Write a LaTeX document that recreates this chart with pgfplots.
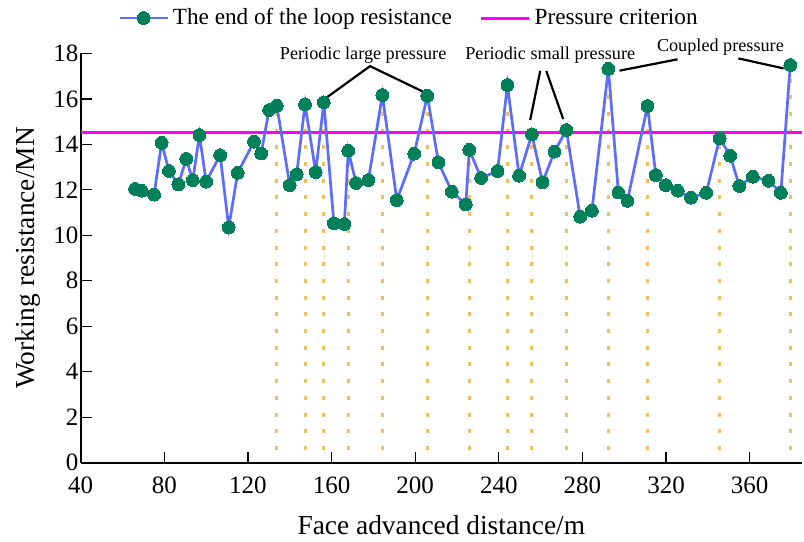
\documentclass[border=0pt]{standalone}
\usepackage{pgfplots}
\pgfplotsset{compat=1.18}
\usepackage{fontspec}
\setmainfont{Liberation Serif}
\definecolor{lineblue}{RGB}{92,108,255}
\definecolor{mkgreen}{RGB}{0,128,88}
\definecolor{dropgold}{RGB}{240,192,96}
\definecolor{crit}{RGB}{255,0,255}
\begin{document}
\begin{tikzpicture}
\begin{axis}[
  scale only axis,
  width=360.65pt, height=204.65pt,
  xmin=40, xmax=385, ymin=0, ymax=18,
  axis x line=bottom, axis y line=left,
  axis line style={-, line width=0.9pt, black},
  tick align=inside,
  major tick length=5.5pt,
  tick style={line width=0.65pt, black},
  xtick={40,80,120,160,200,240,280,320,360},
  xticklabels={40,80,120,160,200,240,280,320,360},
  ytick={0,2,4,6,8,10,12,14,16,18},
  yticklabels={0,2,4,6,8,10,12,14,16,18},
  ticklabel style={font=\fontsize{12.5}{14}\selectfont},
  yticklabel style={inner sep=1pt},
  xticklabel style={yshift=-3.5pt},
  xlabel={Face advanced distance/m},
  ylabel={Working resistance/MN},
  label style={font=\fontsize{13.7}{16}\selectfont},
  xlabel style={at={(axis description cs:0.5,-0.152)}, anchor=center},
  ylabel style={at={(axis description cs:-0.073,0.5)}, anchor=center},
  clip=false,
  legend columns=2,
  legend style={draw=none, fill=none, at={(0.4566,1.0865)}, anchor=center,
    font=\fontsize{11.6}{13}\selectfont, /tikz/every even column/.append style={column sep=12pt}},
  legend image code/.code={\draw[mark repeat=2,mark phase=2,#1] plot coordinates {(0cm,0cm) (0.42cm,0cm) (0.84cm,0cm)};},
]
\addplot[ycomb, mark=none, draw=dropgold, line width=1.5pt, dash pattern=on 2pt off 6.35pt, dash phase=2pt, forget plot] coordinates {
(133.8,15.70) (147.3,15.76) (156.3,15.85) (168.0,13.72) (184.3,16.17) (205.8,16.14) (225.9,13.76)
(244.1,16.61) (255.8,14.44) (272.3,14.63) (292.4,17.32) (311.1,15.69) (345.6,14.26) (379.4,17.49)
};
\addplot[crit, line width=1.5pt, mark=none, forget plot] coordinates {(40,14.5) (385,14.5)};
\addplot[lineblue, line width=1.35pt, mark=*, mark size=3.2pt, mark options={fill=mkgreen, draw=mkgreen, line width=0pt}] coordinates {
(66.0,12.04) (69.2,11.96) (75.1,11.79) (78.7,14.07) (82.2,12.83) (86.7,12.24) (90.5,13.36) (93.6,12.42)
(96.8,14.41) (100.0,12.36) (106.7,13.53) (110.8,10.35) (115.1,12.75) (122.9,14.12) (126.3,13.60) (130.1,15.51)
(133.8,15.70) (140.0,12.21) (143.3,12.68) (147.3,15.76) (152.4,12.78) (156.3,15.85) (161.1,10.53) (166.1,10.50)
(168.0,13.72) (171.7,12.30) (177.6,12.43) (184.3,16.17) (191.2,11.55) (199.5,13.59) (205.8,16.14) (211.1,13.21)
(217.5,11.92) (224.2,11.36) (225.9,13.76) (231.5,12.52) (239.4,12.83) (244.1,16.61) (249.7,12.62) (255.8,14.44)
(260.9,12.33) (266.6,13.68) (272.3,14.63) (278.9,10.82) (284.5,11.08) (292.4,17.32) (297.2,11.88) (301.5,11.52)
(311.1,15.69) (315.1,12.65) (319.9,12.21) (325.6,11.96) (331.9,11.65) (339.2,11.87) (345.6,14.26) (350.7,13.50)
(355.0,12.17) (361.5,12.58) (369.0,12.40) (374.9,11.87) (379.4,17.49)
};
\addlegendentry{The end of the loop resistance}
\addlegendimage{crit, line width=1.5pt, mark=none}
\addlegendentry{Pressure criterion}
% annotations
\draw[line width=1.1pt] (axis cs:157.8,16.07) -- (axis cs:178.4,17.44) -- (axis cs:203.9,16.31);
\draw[line width=1.1pt] (axis cs:259.8,17.23) -- (axis cs:255.0,15.07);
\draw[line width=1.1pt] (axis cs:262.7,17.23) -- (axis cs:270.8,15.11);
\draw[line width=1.1pt] (axis cs:297.7,17.24) -- (axis cs:325.5,17.74);
\draw[line width=1.1pt] (axis cs:354.6,17.78) -- (axis cs:376.2,17.34);
\node[font=\fontsize{9.1}{11}\selectfont, inner sep=0pt] at (axis cs:175.1,17.93) {Periodic large pressure};
\node[font=\fontsize{9.1}{11}\selectfont, inner sep=0pt] at (axis cs:264.6,17.93) {Periodic small pressure};
\node[font=\fontsize{9.1}{11}\selectfont, inner sep=0pt] at (axis cs:346.0,18.28) {Coupled pressure};
\path (rel axis cs:-0.1119,-0.1889) rectangle (rel axis cs:1.0028,1.1305);
\end{axis}
\end{tikzpicture}
\end{document}
